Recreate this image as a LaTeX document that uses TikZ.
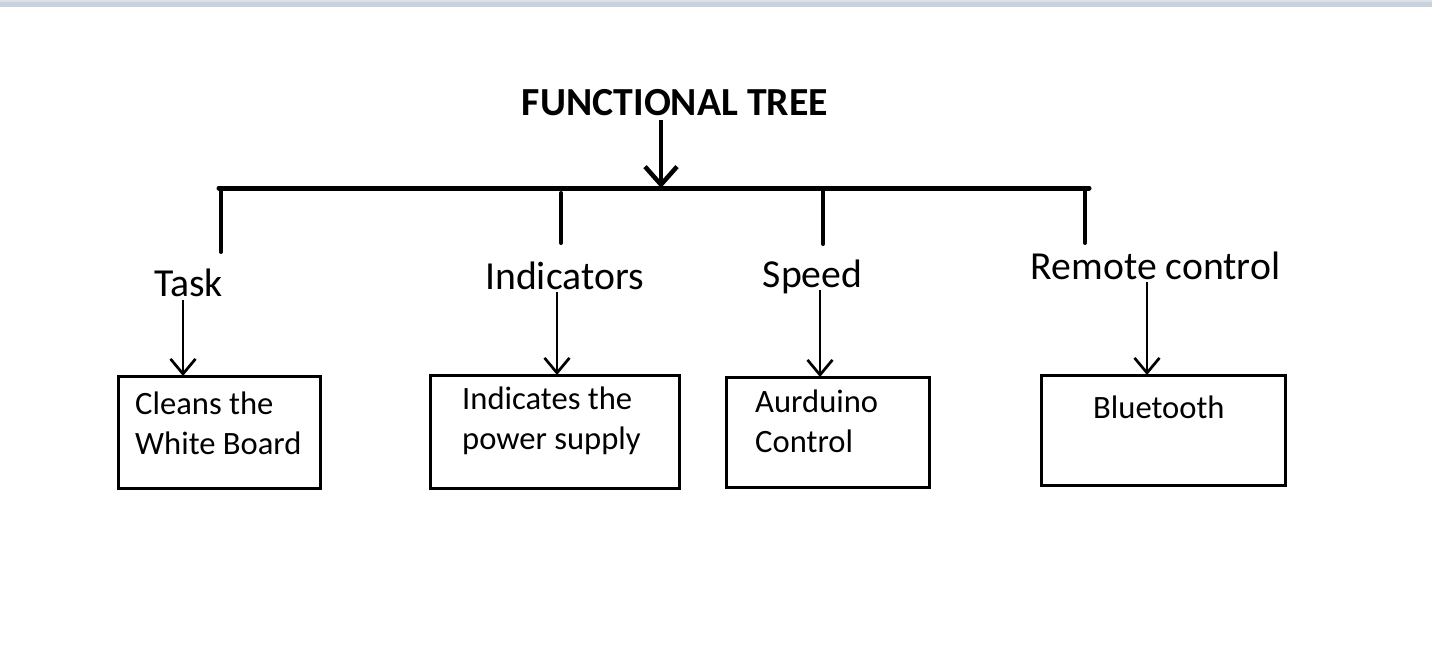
\documentclass[tikz,border=0pt]{standalone}
\usepackage{fontspec}
\setmainfont{Carlito}
\definecolor{bandgray}{RGB}{222, 224, 228}
\definecolor{bandblue}{RGB}{199, 209, 224}
\usetikzlibrary{arrows.meta, positioning}

\begin{document}
\begin{tikzpicture}[x=1pt, y=-1pt,
  bar/.style={line width=5pt, line cap=round},
  stub/.style={line width=4pt, line cap=round},
  feed/.style={line width=2.7pt, -{Straight Barb[length=15pt, width=25pt]}},
  headlabel/.style={inner sep=0pt, anchor=base, text depth=0pt, font=\fontsize{39.7}{44}\selectfont},
  leaf/.style={draw, line width=3pt, inner sep=0pt, outer sep=0pt},
  leaftext/.style={inner sep=0pt, align=left, font=\fontsize{32.6}{39.5}\selectfont}]
\useasboundingbox (0,0) rectangle (1432,658);
\fill[bandgray] (0,0) rectangle (1432,2);
\fill[bandblue] (0,2) rectangle (1432,7);

\node[inner sep=0pt, anchor=base, font=\fontsize{39.8}{44}\selectfont\bfseries] (title) at (675,116) {FUNCTIONAL TREE};
\coordinate (barL) at (219,188);
\coordinate (barR) at (1089,188);
\coordinate (titlefoot) at ([xshift=-14pt, yshift=-4pt]title.south);
\draw[line width=4.5pt, -{Straight Barb[length=18pt, width=32pt]}] (titlefoot) -- (titlefoot |- barL);
\draw[bar] (barL) -- (barR);

\coordinate (stubtask) at (221,252);
\coordinate (stubind) at (561,243);
\coordinate (stubspeed) at (823,244);
\coordinate (stubremote) at (1085,243);
\draw[stub] (stubtask |- barL) -- (stubtask);
\draw[stub] ([yshift=-5pt]stubind |- barL) -- (stubind);
\draw[stub] (stubspeed |- barL) -- (stubspeed);
\draw[stub] (stubremote |- barL) -- (stubremote);

\node[headlabel] (task) at (188.5,296) {Task};
\node[headlabel] (ind) at (564.5,289) {Indicators};
\node[headlabel] (speed) at (812.5,287) {Speed};
\node[headlabel] (remote) at (1155.5,279) {Remote control};

\node[leaf, minimum width=202pt, minimum height=112pt] (clean) at (219,432) {};
\node[leaf, minimum width=249pt, minimum height=113pt] (power) at (554.5,431.5) {};
\node[leaf, minimum width=203pt, minimum height=110pt] (ardu) at (827.5,432) {};
\node[leaf, minimum width=244pt, minimum height=110pt] (blue) at (1163,430) {};

\node[leaftext, anchor=north west, below right=16pt and 17pt of clean.north west] (cleantext) {Cleans the\\White Board};
\node[leaftext, anchor=north west, below right=12pt and 32pt of power.north west] (powertext) {Indicates the\\power supply};
\node[leaftext, anchor=north west, below right=13pt and 29pt of ardu.north west] (ardutext) {Aurduino\\Control};
\node[leaftext, anchor=north west, below right=21pt and 52pt of blue.north west] (bluetext) {Bluetooth};

\coordinate (taskfoot) at ([xshift=-5.5pt, yshift=-4pt]task.south);
\coordinate (indfoot) at ([xshift=-7.5pt, yshift=-3pt]ind.south);
\coordinate (speedfoot) at ([xshift=7.5pt, yshift=-3pt]speed.south);
\coordinate (remotefoot) at ([xshift=-8.5pt, yshift=-3pt]remote.south);
\draw[feed] (taskfoot) -- (taskfoot |- clean.north);
\draw[feed] (indfoot) -- (indfoot |- power.north);
\draw[feed] (speedfoot) -- (speedfoot |- ardu.north);
\draw[feed] (remotefoot) -- (remotefoot |- blue.north);
\end{tikzpicture}
\end{document}
